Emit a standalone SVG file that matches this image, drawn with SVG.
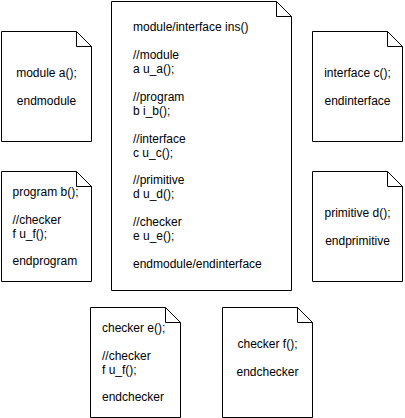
<svg xmlns="http://www.w3.org/2000/svg" width="405" height="418" viewBox="0 0 405 418">
<style>
.note{fill:#ffffff;stroke:#000000;stroke-width:1}
.fold{fill:none;stroke:#000000;stroke-width:1}
text{font-family:"Liberation Sans",Arial,Helvetica,sans-serif;font-size:12px;fill:#000000}
.c{text-anchor:middle}
</style>
<rect width="405" height="418" fill="#ffffff"/>
<g id="ins">
<path class="note" d="M111.5 1.5H276.5L291.5 16.5V290.5H111.5Z"/>
<path class="fold" d="M276.5 1.5V16.5H291.5"/>
<text x="133" y="31.4">module/interface ins()</text>
<text x="133" y="59.2">//module</text>
<text x="133" y="73.1">a u_a();</text>
<text x="133" y="100.9">//program</text>
<text x="133" y="114.8">b i_b();</text>
<text x="133" y="142.6">//interface</text>
<text x="133" y="156.5">c u_c();</text>
<text x="133" y="184.3">//primitive</text>
<text x="133" y="198.2">d u_d();</text>
<text x="133" y="226">//checker</text>
<text x="133" y="239.9">e u_e();</text>
<text x="133" y="267.7">endmodule/endinterface</text>
</g>
<g id="module-a">
<path class="note" d="M1.5 31.5H76.5L91.5 46.5V141.5H1.5Z"/>
<path class="fold" d="M76.5 31.5V46.5H91.5"/>
<text class="c" x="46.5" y="76.7">module a();</text>
<text class="c" x="46.5" y="104.5">endmodule</text>
</g>
<g id="interface-c">
<path class="note" d="M312.5 31.5H387.5L402.5 46.5V141.5H312.5Z"/>
<path class="fold" d="M387.5 31.5V46.5H402.5"/>
<text class="c" x="357.5" y="76.7">interface c();</text>
<text class="c" x="357.5" y="104.5">endinterface</text>
</g>
<g id="program-b">
<path class="note" d="M1.5 171.5H76.5L91.5 186.5V281.5H1.5Z"/>
<path class="fold" d="M76.5 171.5V186.5H91.5"/>
<text x="12.5" y="195.9">program b();</text>
<text x="12.5" y="223.7">//checker</text>
<text x="12.5" y="237.6">f u_f();</text>
<text x="12.5" y="265.4">endprogram</text>
</g>
<g id="primitive-d">
<path class="note" d="M312.5 171.5H387.5L402.5 186.5V281.5H312.5Z"/>
<path class="fold" d="M387.5 171.5V186.5H402.5"/>
<text class="c" x="357.5" y="216.7">primitive d();</text>
<text class="c" x="357.5" y="244.5">endprimitive</text>
</g>
<g id="checker-e">
<path class="note" d="M90.5 307.5H165.5L180.5 322.5V417.5H90.5Z"/>
<path class="fold" d="M165.5 307.5V322.5H180.5"/>
<text x="102" y="331.9">checker e();</text>
<text x="102" y="359.7">//checker</text>
<text x="102" y="373.6">f u_f();</text>
<text x="102" y="401.4">endchecker</text>
</g>
<g id="checker-f">
<path class="note" d="M222.5 307.5H297.5L312.5 322.5V417.5H222.5Z"/>
<path class="fold" d="M297.5 307.5V322.5H312.5"/>
<text class="c" x="267.5" y="348.2">checker f();</text>
<text class="c" x="267.5" y="376">endchecker</text>
</g>
</svg>
